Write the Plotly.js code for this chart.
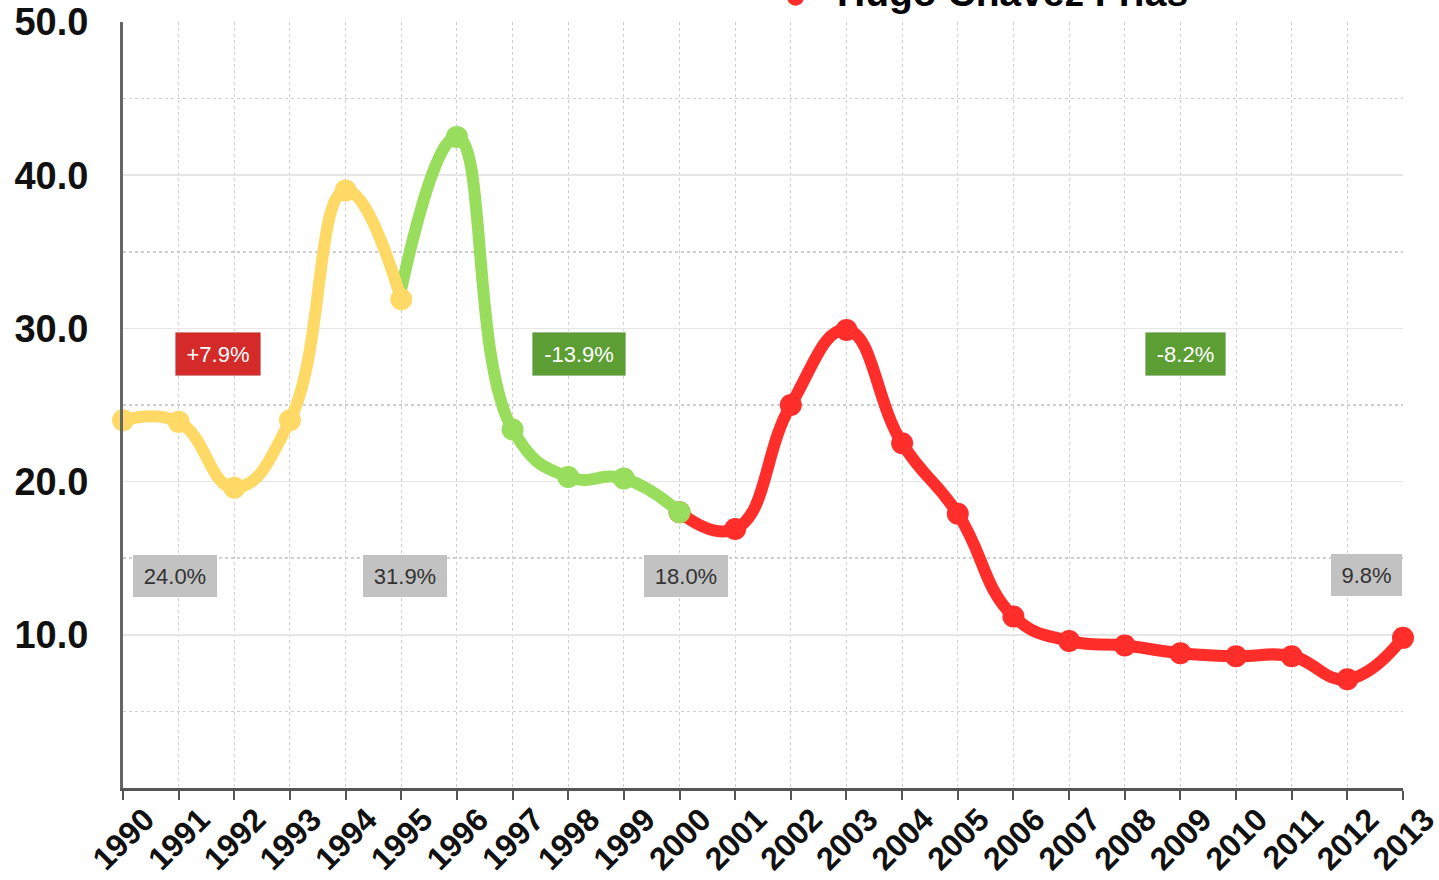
<!DOCTYPE html>
<html>
<head>
<meta charset="utf-8">
<script src="https://cdn.plot.ly/plotly-3.0.1.min.js"></script>
<style>html,body{margin:0;padding:0;background:#fff;}#chart{width:1439px;height:880px;}</style>
</head>
<body>
<div id="chart"></div>
<script>
// Segment 1 (yellow)
const yearsCAP = [1990, 1991, 1992, 1993, 1994, 1995];
const valuesCAP = [24.0, 23.9, 19.6, 24.0, 39.0, 31.9];
// Segment 2 (green)
const yearsRC = [1995, 1996, 1997, 1998, 1999, 2000];
const valuesRC = [32.6, 42.5, 23.4, 20.3, 20.2, 18.0];
// Segment 3 (red) - Hugo Chávez Frías
const yearsHCF = [2000, 2001, 2002, 2003, 2004, 2005, 2006, 2007, 2008, 2009, 2010, 2011, 2012, 2013];
const valuesHCF = [18.0, 16.9, 25.0, 29.9, 22.5, 17.9, 11.2, 9.6, 9.3, 8.8, 8.6, 8.6, 7.1, 9.8];

const legendName = "Hugo Chávez Frías";
const tickYears = [1990,1991,1992,1993,1994,1995,1996,1997,1998,1999,2000,2001,2002,2003,2004,2005,2006,2007,2008,2009,2010,2011,2012,2013];

// Box labels
const changeLabels = ["+7.9%", "-13.9%", "-8.2%"];
const changeX = [1991.71, 1998.2, 2009.1];
const changeY = [28.3, 28.3, 28.3];
const levelLabels = ["24.0%", "31.9%", "18.0%", "9.8%"];
const levelX = [1990.93, 1995.07, 2000.12, 2012.34];
const levelY = [13.85, 13.85, 13.85, 13.9];

const cYellow = "#ffd966", cGreen = "#99dd5c", cRed = "#ff2e2b";

function trace(x, y, color, sizes) {
  return {
    x: x, y: y, type: "scatter", mode: "lines+markers",
    line: {color: color, width: 12, shape: "spline", smoothing: 1.3},
    marker: {color: color, size: sizes, opacity: 1, line: {width: 0}},
    opacity: 1,
    cliponaxis: false, hoverinfo: "skip", showlegend: false
  };
}

const data = [
  trace(yearsHCF, valuesHCF, cRed, yearsHCF.map(() => 22)),
  trace(yearsRC, valuesRC, cGreen, yearsRC.map((v, i) => i === 0 ? 0 : 22)),
  trace(yearsCAP, valuesCAP, cYellow, yearsCAP.map(() => 22))
];

const annotations = [];
const changeColors = ["#d42a2a", "#5c9e34", "#5c9e34"];
const changeW = [84, 92, 79];
changeLabels.forEach((t, i) => annotations.push({
  x: changeX[i], y: changeY[i], xref: "x", yref: "y", text: t, showarrow: false,
  font: {family: "Liberation Sans, Arial, sans-serif", size: 22, color: "#ffffff"},
  bgcolor: changeColors[i], bordercolor: "rgba(0,0,0,0.08)", borderwidth: 1,
  width: changeW[i], height: 42, borderpad: 0
}));
const levelW = [84, 84, 84, 71];
levelLabels.forEach((t, i) => annotations.push({
  x: levelX[i], y: levelY[i], xref: "x", yref: "y", text: t, showarrow: false,
  font: {family: "Liberation Sans, Arial, sans-serif", size: 22, color: "#333333"},
  bgcolor: "#c2c2c2", borderwidth: 0,
  width: levelW[i], height: 42, borderpad: 0
}));
// Legend (partially cut at top)
annotations.push({
  x: 0.525, y: 1.034, xref: "paper", yref: "paper", text: "●", showarrow: false,
  xanchor: "center", yanchor: "middle",
  font: {family: "DejaVu Sans, sans-serif", size: 22, color: cRed}
});
annotations.push({
  x: 0.556, y: 1.038, xref: "paper", yref: "paper", text: "<b>" + legendName + "</b>", showarrow: false,
  xanchor: "left", yanchor: "middle",
  font: {family: "Liberation Sans, Arial, sans-serif", size: 39, color: "#000000"}
});

const layout = {
  width: 1439, height: 880,
  margin: {l: 123, r: 36, t: 22, b: 92},
  paper_bgcolor: "#ffffff", plot_bgcolor: "#ffffff",
  showlegend: false,
  xaxis: {
    range: [1990, 2013], tickmode: "array", tickvals: tickYears, ticktext: tickYears.map(String),
    tickangle: -45, ticks: "outside", ticklen: 9, tickwidth: 2, tickcolor: "#555555",
    ticklabelshift: 22, ticklabelstandoff: -12, ticklabeloverflow: "allow",
    showline: true, linecolor: "#555555", linewidth: 3,
    showgrid: true, gridcolor: "#cfcfcf", griddash: "dot", gridwidth: 1,
    zeroline: false,
    tickfont: {family: "Liberation Sans, Arial, sans-serif", size: 32, color: "#111111", weight: "bold"}
  },
  yaxis: {
    range: [0, 50], tickmode: "array", tickvals: [10, 20, 30, 40, 50], ticktext: ["10.0", "20.0", "30.0", "40.0", "50.0"],
    ticks: "", ticklabelstandoff: 24,
    showline: true, linecolor: "#666666", linewidth: 3,
    showgrid: true, gridcolor: "#e6e6e6", gridwidth: 1.5,
    minor: {dtick: 5, tick0: 5, showgrid: true, gridcolor: "#cfcfcf", griddash: "dot", gridwidth: 1.5},
    zeroline: false,
    tickfont: {family: "Liberation Sans, Arial, sans-serif", size: 38, color: "#111111", weight: "bold"}
  },
  annotations: annotations
};

Plotly.newPlot("chart", data, layout, {staticPlot: true, displayModeBar: false});
</script>
</body>
</html>
